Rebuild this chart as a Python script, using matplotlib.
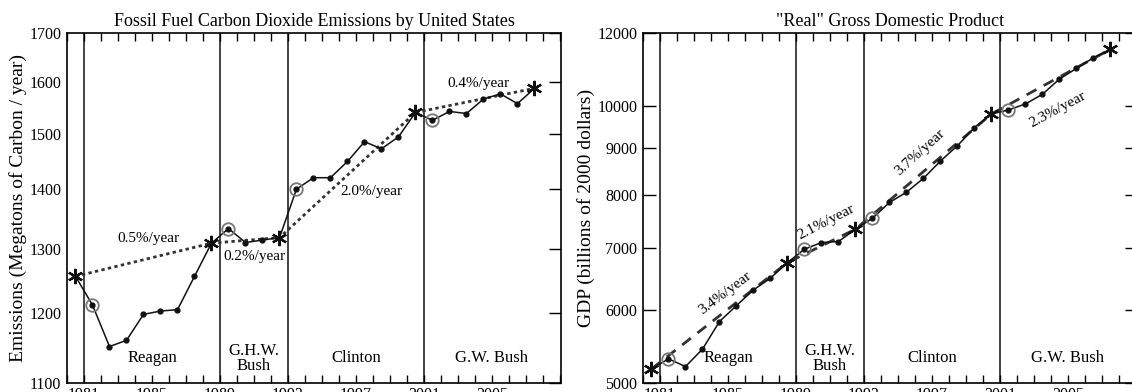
import numpy as np
import matplotlib
matplotlib.use('Agg')
import matplotlib.pyplot as plt
from matplotlib.ticker import FixedLocator, MultipleLocator, NullLocator

plt.rcParams['font.family'] = ['Liberation Serif', 'DejaVu Serif']
plt.rcParams['font.size'] = 11

# Annual values 1980 - 2007, plotted at mid-year
years = np.arange(1980, 2008)
emissions = [1256, 1212, 1151, 1160, 1198, 1203, 1205, 1256, 1309, 1333,
             1310, 1314, 1318, 1400, 1420, 1420, 1449, 1485, 1472, 1494,
             1540, 1525, 1542, 1538, 1566, 1576, 1557, 1587]
gdp = [5179, 5311, 5210, 5442, 5831, 6069, 6311, 6499, 6758, 6988,
       7105, 7123, 7346, 7549, 7855, 8058, 8344, 8712, 9053, 9470,
       9800, 9899, 10049, 10296, 10696, 10983, 11281, 11523]

# Presidencies
inaugurations = [1981, 1989, 1993, 2001]
term_ends = [1980, 1988, 1992, 2000, 2007]
presidents = ['Reagan', 'G.H.W.\nBush', 'Clinton', 'G.W. Bush']
president_mid = [1985, 1991, 1997, 2005]

emis_ticks = [1100, 1200, 1300, 1400, 1500, 1600, 1700]
gdp_ticks = [5000, 6000, 7000, 8000, 9000, 10000, 12000]
year_labels = [1981, 1985, 1989, 1993, 1997, 2001, 2005]

# where the growth-rate labels go (x, y, rotation)
emis_rate_pos = [(1984.8, 1317, 0), (1991.0, 1287, 0), (1997.9, 1395, 0), (2004.2, 1597, 0)]
gdp_rate_pos = [(1984.8, 6265, 37), (1990.8, 7481, 27), (1996.3, 8891, 42), (2004.4, 9899, 28)]

W, H = 1132, 392
fig = plt.figure(figsize=(W / 100, H / 100), dpi=100)


def panel(rect, values, ticks, title, ylabel, trend_style, rate_pos, left_ticks):
    ax = fig.add_axes(rect)
    x = years + 0.5
    vals = np.array(values, dtype=float)

    for yr in inaugurations:
        ax.axvline(yr, color='#222222', lw=1.2, zorder=1)

    ax.plot(x, vals, '-', color='#111111', lw=1.1, marker='o', ms=3.5, zorder=3)

    # first year of each term
    idx_start = [list(years).index(y) for y in inaugurations]
    ax.plot(x[idx_start], vals[idx_start], 'o', ms=9, mfc='none', mec='#777777', mew=1.3, zorder=4)

    # last year of each term and trend between them
    idx_end = [list(years).index(y) for y in term_ends]
    ax.plot(x[idx_end], vals[idx_end], trend_style['ls'], color='#333333', lw=2.0,
            dashes=trend_style['dashes'], zorder=2)
    ax.plot(x[idx_end], vals[idx_end], ls='none', marker=(6, 2, 0), ms=11, mec='#111111',
            mew=1.6, zorder=5)

    for k in range(len(idx_end) - 1):
        a, b = idx_end[k], idx_end[k + 1]
        rate = ((vals[b] / vals[a]) ** (1.0 / (years[b] - years[a])) - 1) * 100
        px, py, rot = rate_pos[k]
        ax.text(px, py, '%.1f%%/year' % rate, rotation=rot, ha='center', va='center',
                fontsize=11, rotation_mode='anchor')

    for name, mid in zip(presidents, president_mid):
        ax.text(mid, 0.07, name, transform=ax.get_xaxis_transform(), ha='center',
                va='center', fontsize=12, linespacing=0.85)

    ax.set_yscale('log')
    ax.set_ylim(ticks[0], ticks[-1])
    ax.yaxis.set_major_locator(FixedLocator(ticks))
    ax.yaxis.set_minor_locator(NullLocator())
    ax.set_yticklabels([str(t) for t in ticks])
    ax.set_xlim(1980, 2009.06)
    ax.xaxis.set_major_locator(FixedLocator(year_labels))
    ax.xaxis.set_minor_locator(MultipleLocator(1))
    ax.tick_params(axis='x', which='both', direction='in', top=True, bottom=True,
                   length=6, width=1, pad=3, labelsize=11.5)
    ax.tick_params(axis='y', which='both', direction='in', left=left_ticks, right=True,
                   length=9, width=1, pad=4, labelsize=11.5)
    for s in ax.spines.values():
        s.set_linewidth(1.2)
    ax.set_title(title, fontsize=13, pad=5)
    ax.set_ylabel(ylabel, fontsize=14, labelpad=2)
    return ax


ax1 = panel([67 / W, 9 / H, 494 / W, 350 / H], emissions, emis_ticks,
            'Fossil Fuel Carbon Dioxide Emissions by United States',
            'Emissions (Megatons of Carbon / year)',
            {'ls': '--', 'dashes': (1.2, 1.2)}, emis_rate_pos, False)
ax2 = panel([643 / W, 9 / H, 494 / W, 350 / H], gdp, gdp_ticks,
            '"Real" Gross Domestic Product',
            'GDP (billions of 2000 dollars)',
            {'ls': '--', 'dashes': (4, 3)}, gdp_rate_pos, True)

fig.savefig('out.png', dpi=100)
